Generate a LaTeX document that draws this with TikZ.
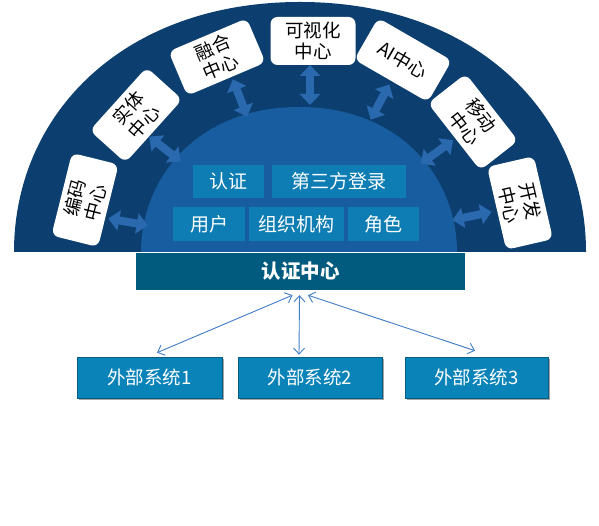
\documentclass[tikz,border=0pt]{standalone}
\usepackage{fontspec}
\setmainfont{Noto Sans CJK SC}
\usetikzlibrary{arrows.meta,calc,shadows}
\definecolor{ringdark}{HTML}{0C3F6F}
\definecolor{innerblue}{HTML}{185D9F}
\definecolor{tileblue}{HTML}{0D7DB3}
\definecolor{barteal}{HTML}{005B7F}
\definecolor{extblue}{HTML}{0A83B8}
\definecolor{fatblue}{HTML}{2A69AE}
\definecolor{linkblue}{HTML}{3E7CC6}
\begin{document}
\begin{tikzpicture}[x=1pt,y=1pt,
  cbox/.style={fill=white, rounded corners=7pt, minimum width=85pt, minimum height=48pt, inner sep=0pt, align=center, font=\fontsize{18.5}{21}\selectfont, text=black},
  tile/.style={fill=tileblue, text=white, minimum height=33pt, inner sep=0pt, font=\fontsize{19}{21}\selectfont},
  ext/.style={fill=extblue, draw=extblue!70!black, line width=0.6pt, text=white, minimum width=144pt, minimum height=41pt, inner sep=0pt, font=\fontsize{18.5}{21}\selectfont, drop shadow={shadow xshift=1.5pt, shadow yshift=-2pt, opacity=0.35, fill=black}},
  fat/.style={draw=fatblue, line width=8pt, {Triangle[length=11pt,width=20pt]}-{Triangle[length=11pt,width=20pt]}},
  link/.style={draw=linkblue, line width=0.9pt, {Straight Barb[length=6pt,width=11pt]}-{Straight Barb[length=6pt,width=11pt]}}
]
\useasboundingbox (0,0) rectangle (599,526);
% outer ring
\fill[ringdark] (14,274) .. controls (14,411.5) and (123,524) .. (300,524) .. controls (477,524) and (586,411.5) .. (586,274) -- cycle;
% inner half disc
\fill[innerblue] (141,274) .. controls (141,346.5) and (196,419) .. (299,419) .. controls (402,419) and (457,346.5) .. (457,274) -- cycle;

% tiles
\node[tile, minimum width=71pt] (t1) at (228.5,344.5) {认证};
\node[tile, minimum width=134pt] (t2) at (339,344.5) {第三方登录};
\node[tile, minimum width=72pt, minimum height=34pt] (t3) at (209,302) {用户};
\node[tile, minimum width=95pt, minimum height=34pt] (t4) at (296.5,302) {组织机构};
\node[tile, minimum width=71pt, minimum height=34pt] (t5) at (383.5,302) {角色};

% centre bar
\node[fill=barteal, text=white, minimum width=329pt, minimum height=37pt, inner sep=0pt, font=\fontsize{19.5}{21}\selectfont\bfseries] (auth) at (300.5,254.5) {认证中心};

% surrounding centres
\node[cbox, rotate=76] (b1) at (85,326) {编码\\中心};
\node[cbox, rotate=48] (b2) at (136,411) {实体\\中心};
\node[cbox, rotate=23] (b3) at (217,469) {融合\\中心};
\node[cbox, rotate=0] (b4) at (313,485) {可视化\\中心};
\node[cbox, rotate=-30] (b5) at (403,466) {AI中心};
\node[cbox, rotate=-52] (b6) at (473,404) {移动\\中心};
\node[cbox, rotate=-77] (b7) at (520,323) {开发\\中心};

% fat double arrows
\foreach \i/\cx/\cy/\a in {1/128/304/170, 2/165/377/142, 3/240/428/111, 4/310/441/90, 5/380/424/62, 6/437/374/36, 7/472/310/12}{
  \coordinate (f\i o) at ($(\cx,\cy)+(\a:20)$);
  \coordinate (f\i i) at ($(\cx,\cy)+(\a+180:20)$);
  \draw[fat] (f\i o) -- (f\i i);
}

% external systems
\node[ext, minimum width=145pt] (ext1) at (149.5,148.5) {外部系统1};
\node[ext] (ext2) at (310,148.5) {外部系统2};
\node[ext, minimum width=143pt] (ext3) at (476.5,148.5) {外部系统3};

\draw[link] ([xshift=-8pt,yshift=-5pt]auth.south) -- ([xshift=7.5pt,yshift=4pt]ext1.north);
\draw[link] ([xshift=-1pt,yshift=-5pt]auth.south) -- ([xshift=-11pt,yshift=2pt]ext2.north);
\draw[link] ([xshift=7.5pt,yshift=-5pt]auth.south) -- ([xshift=-1.5pt,yshift=6pt]ext3.north);
\end{tikzpicture}
\end{document}
